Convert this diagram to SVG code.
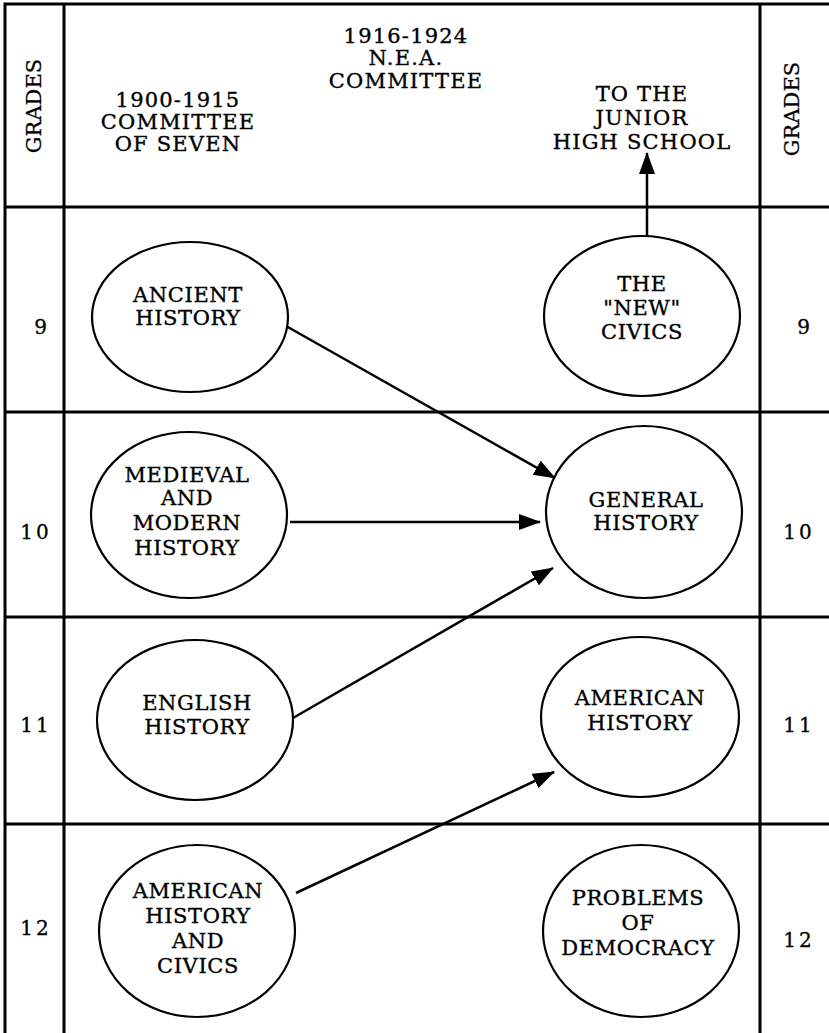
<svg xmlns="http://www.w3.org/2000/svg" width="829" height="1033" viewBox="0 0 829 1033">
<style>
.grid{stroke:#000;stroke-width:3;fill:none}
.node{fill:#fff;stroke:#000;stroke-width:2.2}
.t{font-family:"DejaVu Serif","Liberation Serif",serif;font-size:21px;letter-spacing:0.6px;text-anchor:middle;fill:#000;stroke:#000;stroke-width:0.35}
.h{font-family:"DejaVu Serif","Liberation Serif",serif;font-size:21px;letter-spacing:1.2px;text-anchor:middle;fill:#000;stroke:#000;stroke-width:0.35}
.n{font-family:"DejaVu Serif","Liberation Serif",serif;font-size:20px;letter-spacing:3px;text-anchor:middle;fill:#000;stroke:#000;stroke-width:0.3}
.g{font-family:"DejaVu Serif","Liberation Serif",serif;font-size:21px;letter-spacing:0px;text-anchor:middle;fill:#000;stroke:#000;stroke-width:0.3}
.c{stroke:#000;stroke-width:2.5;fill:none;marker-end:url(#ah)}
</style>
<defs>
<marker id="ah" markerUnits="userSpaceOnUse" markerWidth="22" markerHeight="16" refX="21" refY="8" orient="auto">
<path d="M0,0 L22,8 L0,16 Z" fill="#000"/>
</marker>
</defs>
<rect width="829" height="1033" fill="#fff"/>
<g id="grid">
<path class="grid" d="M5,1040 V4 H840 M64,4 V1040 M760,4 V1040 M5,207 H840 M5,412 H840 M5,617 H840 M5,824 H840"/>
</g>
<g id="headers">
<text class="g" transform="translate(41,106) rotate(-90)">GRADES</text>
<text class="g" transform="translate(799,109) rotate(-90)">GRADES</text>
<text class="h" x="178" y="107">1900-1915</text>
<text class="h" x="178" y="129">COMMITTEE</text>
<text class="h" x="178" y="151">OF SEVEN</text>
<text class="h" x="406" y="43">1916-1924</text>
<text class="h" x="406" y="65">N.E.A.</text>
<text class="h" x="406" y="88">COMMITTEE</text>
<text class="h" x="642" y="101">TO THE</text>
<text class="h" x="642" y="125">JUNIOR</text>
<text class="h" x="642" y="149">HIGH SCHOOL</text>
</g>
<g id="grades">
<text class="n" x="42" y="334">9</text>
<text class="n" x="36" y="539">10</text>
<text class="n" x="36" y="732">11</text>
<text class="n" x="36" y="935">12</text>
<text class="n" x="805" y="334">9</text>
<text class="n" x="799" y="539">10</text>
<text class="n" x="799" y="732">11</text>
<text class="n" x="799" y="947">12</text>
</g>
<g id="connectors">
<line class="c" x1="286" y1="326" x2="555" y2="478"/>
<line class="c" x1="290" y1="522" x2="540" y2="522"/>
<line class="c" x1="293" y1="718" x2="553" y2="568"/>
<line class="c" x1="296" y1="893" x2="554" y2="772"/>
<line class="c" x1="647" y1="236" x2="647" y2="153"/>
</g>
<g id="ancient">
<ellipse class="node" cx="190" cy="317" rx="98" ry="75"/>
<text class="t" x="188" y="302">ANCIENT</text>
<text class="t" x="188" y="325">HISTORY</text>
</g>
<g id="medieval">
<ellipse class="node" cx="189" cy="515" rx="98" ry="83"/>
<text class="t" x="187" y="482">MEDIEVAL</text>
<text class="t" x="187" y="505">AND</text>
<text class="t" x="187" y="530">MODERN</text>
<text class="t" x="187" y="555">HISTORY</text>
</g>
<g id="english">
<ellipse class="node" cx="195" cy="720" rx="98" ry="80"/>
<text class="t" x="197" y="710">ENGLISH</text>
<text class="t" x="197" y="734">HISTORY</text>
</g>
<g id="amcivics">
<ellipse class="node" cx="197" cy="931" rx="98" ry="86"/>
<text class="t" x="198" y="898">AMERICAN</text>
<text class="t" x="198" y="923">HISTORY</text>
<text class="t" x="198" y="948">AND</text>
<text class="t" x="198" y="973">CIVICS</text>
</g>
<g id="newcivics">
<ellipse class="node" cx="642" cy="316" rx="98" ry="80"/>
<text class="t" x="642" y="291">THE</text>
<text class="t" x="642" y="315">"NEW"</text>
<text class="t" x="642" y="339">CIVICS</text>
</g>
<g id="general">
<ellipse class="node" cx="644" cy="512" rx="98" ry="86"/>
<text class="t" x="646" y="507">GENERAL</text>
<text class="t" x="646" y="530">HISTORY</text>
</g>
<g id="american">
<ellipse class="node" cx="640" cy="717" rx="99" ry="80"/>
<text class="t" x="640" y="705">AMERICAN</text>
<text class="t" x="640" y="730">HISTORY</text>
</g>
<g id="problems">
<ellipse class="node" cx="641" cy="931" rx="98" ry="86"/>
<text class="t" x="638" y="905">PROBLEMS</text>
<text class="t" x="638" y="930">OF</text>
<text class="t" x="638" y="955">DEMOCRACY</text>
</g>
</svg>
